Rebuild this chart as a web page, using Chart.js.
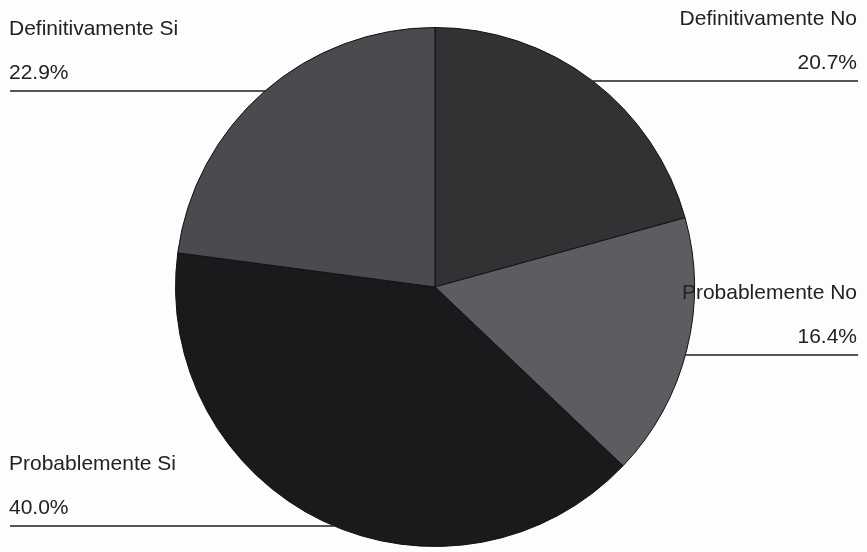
<!DOCTYPE html>
<html>
<head>
<meta charset="utf-8">
<script src="https://cdn.jsdelivr.net/npm/chart.js@4.4.1/dist/chart.umd.min.js"></script>
<style>
  html, body { margin: 0; padding: 0; background: #fdfdfd; }
  #wrap { width: 867px; height: 552px; position: relative; }
</style>
</head>
<body>
<div id="wrap"><canvas id="pie"></canvas></div>
<script>
const categories = ["Definitivamente No", "Probablemente No", "Probablemente Si", "Definitivamente Si"];
const percents = [20.7, 16.4, 40.0, 22.9];
const sliceColors = ["#303234", "#5b5d61", "#1a1a1c", "#4a4b4f"];

// where each label block sits: side of the page and the y of its leader line
const labelSpots = [
    { side: "right", lineY: 81 },
    { side: "right", lineY: 355 },
    { side: "left", lineY: 526 },
    { side: "left", lineY: 91 }
];

const leaderLabels = {
    id: "leaderLabels",
    afterDraw(chart) {
        const ctx = chart.ctx;
        const arc = chart.getDatasetMeta(0).data[0];
        const cx = arc.x, cy = arc.y, r = arc.outerRadius;
        ctx.save();
        ctx.font = "21px 'Liberation Sans', Arial, sans-serif";
        ctx.fillStyle = "#222222";
        ctx.strokeStyle = "#1e1e1e";
        ctx.lineWidth = 1.5;
        categories.forEach((name, i) => {
            const spot = labelSpots[i];
            const dy = spot.lineY - cy;
            const dx = Math.sqrt(Math.max(0, r * r - dy * dy));
            let x0, x1, tx;
            if (spot.side === "left") {
                x0 = 10; x1 = cx - dx; tx = 9;
                ctx.textAlign = "left";
            } else {
                x0 = cx + dx; x1 = 858; tx = 857;
                ctx.textAlign = "right";
            }
            ctx.textBaseline = "alphabetic";
            ctx.fillText(name, tx, spot.lineY - 56);
            ctx.fillText(percents[i].toFixed(1) + "%", tx, spot.lineY - 12);
            ctx.beginPath();
            ctx.moveTo(x0, spot.lineY);
            ctx.lineTo(x1, spot.lineY);
            ctx.stroke();
        });
        ctx.restore();
    }
};

new Chart(document.getElementById("pie"), {
    type: "pie",
    data: {
        labels: categories,
        datasets: [{
            data: percents,
            backgroundColor: sliceColors,
            borderColor: "#111111",
            borderWidth: 1
        }]
    },
    options: {
        responsive: true,
        maintainAspectRatio: false,
        animation: false,
        layout: { padding: { top: 27, bottom: 5, left: 175, right: 172 } },
        plugins: {
            legend: { display: false },
            tooltip: { enabled: false }
        }
    },
    plugins: [leaderLabels]
});
</script>
</body>
</html>
